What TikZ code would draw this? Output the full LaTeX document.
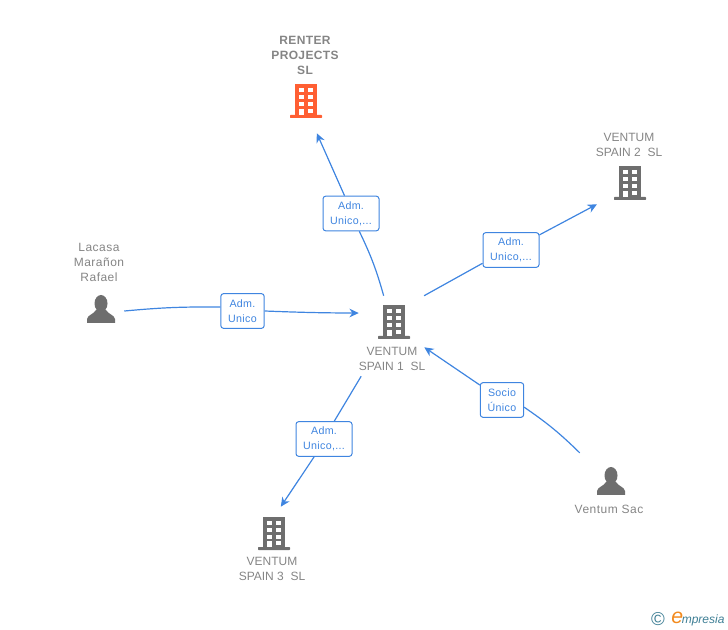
\documentclass[tikz,border=0pt]{standalone}
\usepackage{fontspec}
\setmainfont{Liberation Sans}
\usetikzlibrary{arrows.meta}

\definecolor{linkblue}{HTML}{3F85E0}
\definecolor{namegrey}{HTML}{858585}
\definecolor{icongrey}{HTML}{6E6E6E}
\definecolor{iconorange}{HTML}{FF5F33}
\definecolor{logoteal}{HTML}{3F7F95}
\definecolor{logoorange}{HTML}{F28A1E}

% Edificio centrado en #1, de color #2
\newcommand{\building}[2]{
  \begin{scope}[shift={#1}]
    \fill[#2] (-11,-15.5) rectangle (11,15);
    \fill[#2, rounded corners=0.5] (-16,15) rectangle (16,18);
    \foreach \fila in {-11.5,-4.5,2.5}{
      \fill[white] (-7,\fila) rectangle (-2,\fila+4);
      \fill[white] (2,\fila) rectangle (7,\fila+4);
    }
    \fill[white] (-7,9) rectangle (-2,15);
    \fill[white] (2,9) rectangle (7,13);
  \end{scope}
}

% Persona centrada en #1
\newcommand{\person}[1]{
  \begin{scope}[shift={#1}]
    \fill[icongrey] (0,-5.5) ellipse (6.5 and 8.5);
    \fill[icongrey] (-14,14) -- (-14,10) .. controls (-13.5,6) and (-7,5) .. (-5,1)
      -- (5,1) .. controls (7,5) and (13.5,6) .. (14,10) -- (14,14) -- cycle;
  \end{scope}
}

\begin{document}
\begin{tikzpicture}[x=0.75pt, y=-0.75pt]

% Estilos de cajas y nombres
\tikzstyle{hub} = [rectangle, inner sep=0pt]
\tikzstyle{entity} = [align=center, text=namegrey, font=\fontsize{9pt}{11.25pt}\selectfont, inner sep=0pt]
\tikzstyle{spaced} = [entity, font=\fontsize{9pt}{11.25pt}\selectfont\addfontfeature{LetterSpace=4}]
\tikzstyle{boldentity} = [entity, font=\fontsize{9pt}{11.25pt}\selectfont\bfseries\addfontfeature{LetterSpace=3}]
\tikzstyle{role} = [rectangle, rounded corners=2pt, draw=linkblue, fill=white, line width=0.75pt, align=center, text=linkblue, inner sep=0pt, font=\fontsize{8pt}{11pt}\selectfont\addfontfeature{LetterSpace=3}, execute at begin node=\rule{0pt}{9.5pt}]
\tikzstyle{wide} = [role, minimum width=42pt, minimum height=26pt]
\tikzstyle{narrow} = [role, minimum width=32.5pt, minimum height=26pt]

% Flechas
\tikzstyle{link} = [draw=linkblue, line width=0.9pt]
\tikzstyle{linkto} = [link, -{Stealth[length=7pt, width=6.5pt]}]

\useasboundingbox (0,0) rectangle (728,630);

% Iconos
\building{(306,100)}{iconorange}
\building{(630,182)}{icongrey}
\building{(394,321)}{icongrey}
\building{(274,532)}{icongrey}
\person{(101,309)}
\person{(611,481)}

% Cajas invisibles donde terminan las flechas
\node[hub, minimum width=48pt, minimum height=49.5pt] (renter) at (306,100) {};
\node[hub, minimum width=49.5pt, minimum height=33pt] (spainTwo) at (630,182) {};
\node[hub, minimum width=48.75pt, minimum height=60pt] (spainOne) at (391.5,336) {};
\node[hub, minimum width=48pt, minimum height=37.5pt] (spainThree) at (274,532) {};
\node[hub, minimum width=34.5pt, minimum height=30pt] (lacasa) at (101,309) {};
\node[hub, minimum width=46.5pt, minimum height=42pt] (sac) at (611,481) {};

% Nombres
\node[boldentity] (renterName) at (305,55) {RENTER\\PROJECTS\\SL};
\node[entity] (spainTwoName) at (629,145) {VENTUM\\SPAIN 2\ \ SL};
\node[entity] (spainOneName) at (392,358.5) {VENTUM\\SPAIN 1\ \ SL};
\node[entity] (spainThreeName) at (272,569) {VENTUM\\SPAIN 3\ \ SL};
\node[spaced] (lacasaName) at (99,262) {Lacasa\\Marañon\\Rafael};
\node[spaced] (sacName) at (609,509) {Ventum Sac};

% Etiquetas
\node[wide] (admA) at (351,213.5) {Adm.\\Unico,...};
\node[wide] (admB) at (511,250) {Adm.\\Unico,...};
\node[narrow] (admC) at (242.5,311) {Adm.\\Unico};
\node[wide] (admD) at (324,439) {Adm.\\Unico,...};
\node[narrow] (socio) at (502,400) {Socio\\Único};

% Conexiones
\draw[link] (spainOne.101) to[bend right=5] (admA.-65);
\draw[linkto] (admA.110) -- (renter.-72);
\draw[link] (spainOne.51) -- (admB.205);
\draw[linkto] (admB.28) -- (spainTwo.214);
\draw[link] (lacasa.-5) to[bend left=3] (admC.170);
\draw[linkto] (admC.east) to[bend right=1] (spainOne.145);
\draw[link] (sac.138) to[bend right=5] (socio.-18);
\draw[linkto] (socio.146) -- (spainOne.-19);
\draw[link] (spainOne.233) -- (admD.60);
\draw[linkto] (admD.241) -- (spainThree.75);

% Marca
\node[text=logoteal, font=\fontsize{14pt}{14pt}\selectfont, inner sep=0pt] (copyMark) at (658,619) {©};
\node[anchor=west, inner sep=0pt, text=logoteal, font=\fontsize{9pt}{9pt}\selectfont\itshape] (brand) at (671,619)
  {{\color{logoorange}\fontsize{16pt}{16pt}\selectfont e}\kern-1pt mpresia};

\end{tikzpicture}
\end{document}
